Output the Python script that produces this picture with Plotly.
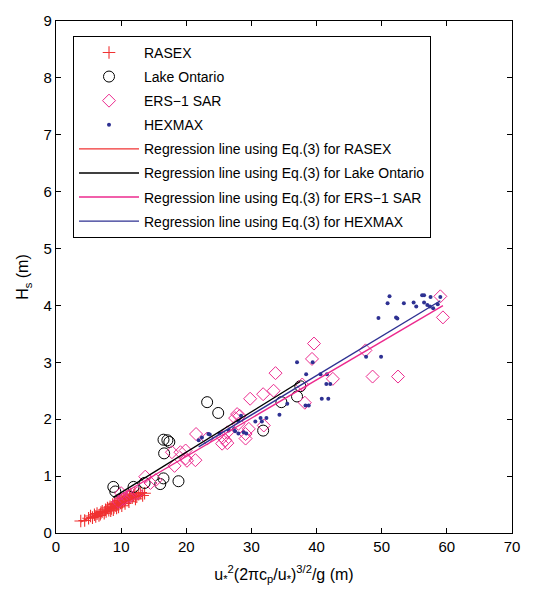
import plotly.graph_objects as go

# ---------------- data ----------------
rasex_x = [3.8, 4.4, 5.0, 5.3, 5.6, 5.9, 6.1, 6.3, 6.6, 6.9, 7.1, 7.4, 7.6, 7.9, 8.1, 8.3,
           8.5, 8.7, 8.9, 9.0, 9.2, 9.4, 9.5, 9.7, 9.9, 10.0, 10.2, 10.4, 10.5, 10.7, 10.9,
           11.1, 11.3, 11.5, 11.7, 11.9, 12.1, 12.4, 12.7, 13.0, 13.3, 13.6, 8.8, 9.3, 10.1,
           10.6, 11.2, 7.7, 6.8, 12.2, 9.6, 8.4]
rasex_y = [0.21, 0.22, 0.26, 0.30, 0.27, 0.32, 0.29, 0.34, 0.31, 0.36, 0.38, 0.35, 0.41, 0.44,
           0.40, 0.46, 0.43, 0.50, 0.45, 0.52, 0.48, 0.55, 0.50, 0.57, 0.53, 0.60, 0.55, 0.62,
           0.57, 0.60, 0.65, 0.58, 0.63, 0.68, 0.62, 0.66, 0.70, 0.64, 0.68, 0.71, 0.66, 0.70,
           0.41, 0.44, 0.48, 0.52, 0.55, 0.38, 0.33, 0.60, 0.46, 0.39]

ontario_x = [8.8, 9.1, 11.9, 13.6, 16.5, 16.0, 18.8, 16.6, 16.5, 17.1, 17.4, 23.2, 24.9,
             31.8, 34.6, 37.0, 37.5]
ontario_y = [0.81, 0.73, 0.81, 0.88, 0.96, 0.86, 0.91, 1.40, 1.64, 1.63, 1.60, 2.30, 2.11,
             1.80, 2.30, 2.40, 2.58]

ers_x = [9.6, 10.0, 10.4, 11.4, 12.5, 13.7, 14.5, 15.3, 17.8, 18.2, 19.1, 19.9, 19.9, 20.1,
         21.4, 21.5, 23.2, 25.5, 25.6, 26.0, 26.3, 26.3, 27.5, 27.8, 28.0, 28.2, 29.1, 29.1,
         29.6, 29.8, 31.8, 31.9, 33.4, 33.7, 37.8, 38.2, 39.3, 39.6, 42.5, 47.5, 48.6, 52.5,
         59.0, 59.4]
ers_y = [0.55, 0.70, 0.60, 0.65, 0.70, 0.99, 0.88, 0.93, 1.42, 1.18, 1.42, 1.45, 1.31, 1.27,
         1.28, 1.74, 1.66, 1.57, 1.68, 1.63, 1.77, 1.58, 2.02, 2.09, 1.92, 2.06, 1.66, 1.74,
         1.83, 2.36, 2.44, 1.89, 2.50, 2.81, 2.61, 2.29, 3.06, 3.33, 2.71, 3.21, 2.75, 2.75,
         4.16, 3.79]

hexmax_x = [21.9, 22.4, 23.4, 23.6, 25.1, 26.5, 27.3, 27.5, 28.0, 28.0, 28.4, 28.8, 29.2,
            30.6, 31.4, 31.6, 32.3, 34.3, 35.5, 37.0, 38.3, 38.8, 38.4, 39.4, 40.6, 41.6,
            41.5, 42.1, 40.8, 41.8, 47.6, 49.9, 49.5, 52.2, 52.4, 50.9, 51.2, 53.4, 54.9,
            55.3, 56.2, 56.5, 57.5, 59.0, 56.5, 57.0, 57.4, 57.9, 58.6]
hexmax_y = [1.63, 1.68, 1.74, 1.73, 1.75, 1.80, 1.83, 1.79, 1.75, 1.97, 2.06, 1.77, 1.75,
            1.96, 2.02, 1.96, 2.02, 2.08, 2.27, 3.00, 2.24, 2.24, 2.79, 3.00, 2.79, 2.79,
            2.62, 2.62, 2.36, 2.36, 3.10, 3.10, 3.78, 3.79, 3.77, 4.04, 4.16, 4.04, 4.05,
            3.98, 4.18, 4.18, 4.15, 4.15, 4.05, 4.01, 3.98, 3.95, 4.02]

# regression slopes (Hs = B * x) estimated from the drawn lines
slope_rasex = 0.052
slope_ontario = 0.071
slope_ers = 0.0673
slope_hexmax = 0.0692

names = ["RASEX", "Lake Ontario", "ERS\u22121 SAR", "HEXMAX"]

RED = "#f03232"
PINK = "#ec2a8e"
BLUE = "#2e3192"

fig = go.Figure()

fig.add_trace(go.Scatter(x=rasex_x, y=rasex_y, mode="markers", name=names[0],
                         marker=dict(symbol="cross-thin", size=9, line=dict(color=RED, width=1.1)),
                         legendgroup="a"))
fig.add_trace(go.Scatter(x=ontario_x, y=ontario_y, mode="markers", name=names[1],
                         marker=dict(symbol="circle-open", size=11, color="black", line=dict(width=1)),
                         legendgroup="b"))
fig.add_trace(go.Scatter(x=ers_x, y=ers_y, mode="markers", name=names[2],
                         marker=dict(symbol="diamond-open", size=10, color=PINK, line=dict(width=1)),
                         legendgroup="c"))
fig.add_trace(go.Scatter(x=hexmax_x, y=hexmax_y, mode="markers", name=names[3],
                         marker=dict(symbol="circle", size=4, color=BLUE),
                         legendgroup="d"))


def reg_line(xs, slope):
    x0, x1 = min(xs), max(xs)
    return [x0, x1], [slope * x0, slope * x1]


for xs, s, col, nm, g in [(rasex_x, slope_rasex, RED, names[0], "e"),
                          (ontario_x, slope_ontario, "black", "Lake Ontario", "f"),
                          (ers_x, slope_ers, PINK, "ERS\u22121 SAR", "g"),
                          (hexmax_x, slope_hexmax, BLUE, "HEXMAX", "h")]:
    lx, ly = reg_line(xs, s)
    fig.add_trace(go.Scatter(x=lx, y=ly, mode="lines",
                             name="Regression line using Eq.(3) for " + nm,
                             line=dict(color=col, width=1.4), legendgroup=g))

axis_common = dict(showline=True, linecolor="black", linewidth=1.3, mirror="ticks",
                   ticks="inside", ticklen=5, tickcolor="black", showgrid=False,
                   zeroline=False, tickfont=dict(size=15, color="black"))

fig.update_layout(
    width=536, height=592,
    margin=dict(l=56, r=24, t=14, b=58),
    paper_bgcolor="white", plot_bgcolor="white",
    font=dict(family="Liberation Sans, Arial, sans-serif", size=14, color="black"),
    xaxis=dict(range=[0, 70], dtick=10,
               title=dict(text="u<sub>*</sub><sup>2</sup>(2\u03c0c<sub>p</sub>/u<sub>*</sub>)<sup>3/2</sup>/g (m)",
                          font=dict(size=16), standoff=14),
               **axis_common),
    yaxis=dict(range=[0, 9], dtick=1,
               title=dict(text="H<sub>s</sub> (m)", font=dict(size=16), standoff=10),
               **axis_common),
    legend=dict(x=0.0373, y=0.971, xanchor="left", yanchor="top",
                bgcolor="white", bordercolor="black", borderwidth=1,
                font=dict(size=14), traceorder="grouped", tracegroupgap=2.9,
                itemwidth=60),
)

fig.write_html("out.html")
